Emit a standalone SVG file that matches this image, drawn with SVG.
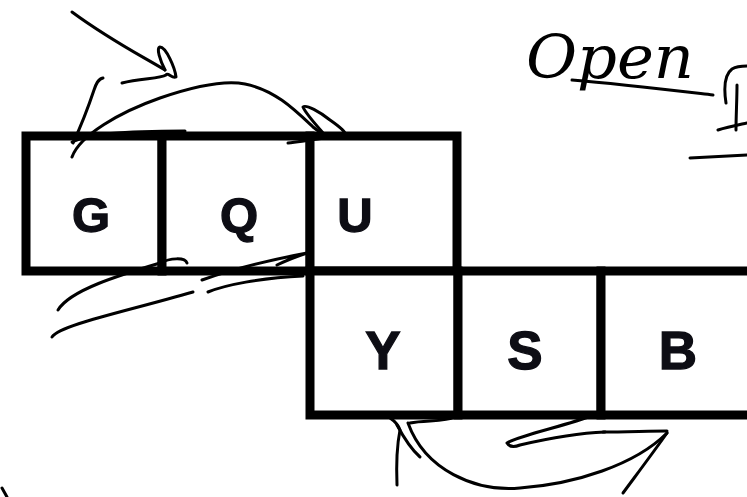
<svg xmlns="http://www.w3.org/2000/svg" width="747" height="497" viewBox="0 0 747 497">
<style>
.box{fill:#fff;stroke:#000;stroke-width:9}
.lbl{font-family:"Liberation Sans",Arial,sans-serif;font-weight:bold;fill:#0d0d14;stroke:#0d0d14;stroke-width:1.3;text-anchor:middle}
.top{font-size:49px}
.bot{font-size:53px}
.ink{fill:none;stroke:#000;stroke-width:3;stroke-linecap:round;stroke-linejoin:round}
.hand{font-family:"DejaVu Serif","Liberation Serif",serif;font-style:italic;font-size:60px;fill:#000}
</style>
<rect width="747" height="497" fill="#fff"/>
<g id="G"><rect class="box" x="26" y="136" width="136" height="135"/><text class="lbl top" x="91" y="232">G</text></g>
<g id="Q"><rect class="box" x="162" y="136" width="148" height="135"/><text class="lbl top" x="239" y="232">Q</text></g>
<g id="U"><rect class="box" x="310" y="136" width="147" height="135"/><text class="lbl top" x="355" y="232">U</text></g>
<g id="Y"><rect class="box" x="310" y="271" width="148" height="144"/><text class="lbl bot" x="383" y="369">Y</text></g>
<g id="S"><rect class="box" x="458" y="271" width="143" height="144"/><text class="lbl bot" x="525" y="369">S</text></g>
<g id="B"><rect class="box" x="601" y="271" width="156" height="144"/><text class="lbl bot" x="678" y="369">B</text></g>
<g id="connectors" class="ink">
<path d="M72,12 C110,40 140,55 165,70"/>
<path d="M165,70 C160,60 156,48 160,47 C166,47 175,68 176,77 C172,79 168,72 166,75 C160,79 140,78 122,83"/>
<path d="M103,78 C98,79 96,84 94,90 C88,108 80,128 73,143"/>
<path d="M72,157 C80,135 120,112 160,98 C195,86 225,80 245,84 C275,90 295,110 313,127 C318,131 322,134 324,134"/>
<path d="M324,134 C316,125 305,112 303,107 C306,104 320,112 330,120 C340,127 347,133 345,135 C330,137 305,141 288,143"/>
<path d="M72,142 C90,134 120,131 185,131"/>
<path d="M58,310 C70,290 120,275 160,263 C170,258 185,257 187,263"/>
<path d="M52,337 C60,325 120,313 193,292"/>
<path d="M202,280 C230,270 270,260 307,253 C295,257 285,261 277,265"/>
<path d="M208,292 C225,285 260,278 303,276"/>
<path d="M397,485 C396,460 398,440 400,430 C398,424 393,420 390,418"/>
<path d="M397,425 C405,440 412,450 420,457"/>
<path d="M408,423 C425,470 475,492 520,488 C575,484 635,465 667,433"/>
<path d="M410,423 C425,420 445,422 455,417"/>
<path d="M623,493 C640,470 655,450 667,433"/>
<path d="M603,432 C625,432 650,431 667,431"/>
<path d="M593,415 C570,425 520,435 507,443 C510,448 515,447 520,445 C550,438 580,433 605,432"/>
<path d="M2,488 L7,497"/>
</g>
<g id="annotation">
<text class="hand" x="526" y="78" textLength="168" lengthAdjust="spacingAndGlyphs">Open</text>
<g class="ink">
<path d="M572,80 C620,84 670,90 713,95"/>
<path d="M726,103 C724,90 724,75 732,69 C737,66 742,66 747,66"/>
<path d="M737,85 C737,100 736,115 736,130"/>
<path d="M718,130 C728,127 738,125 747,123"/>
<path d="M690,158 C710,157 730,156 747,155"/>
</g>
</g>
</svg>
